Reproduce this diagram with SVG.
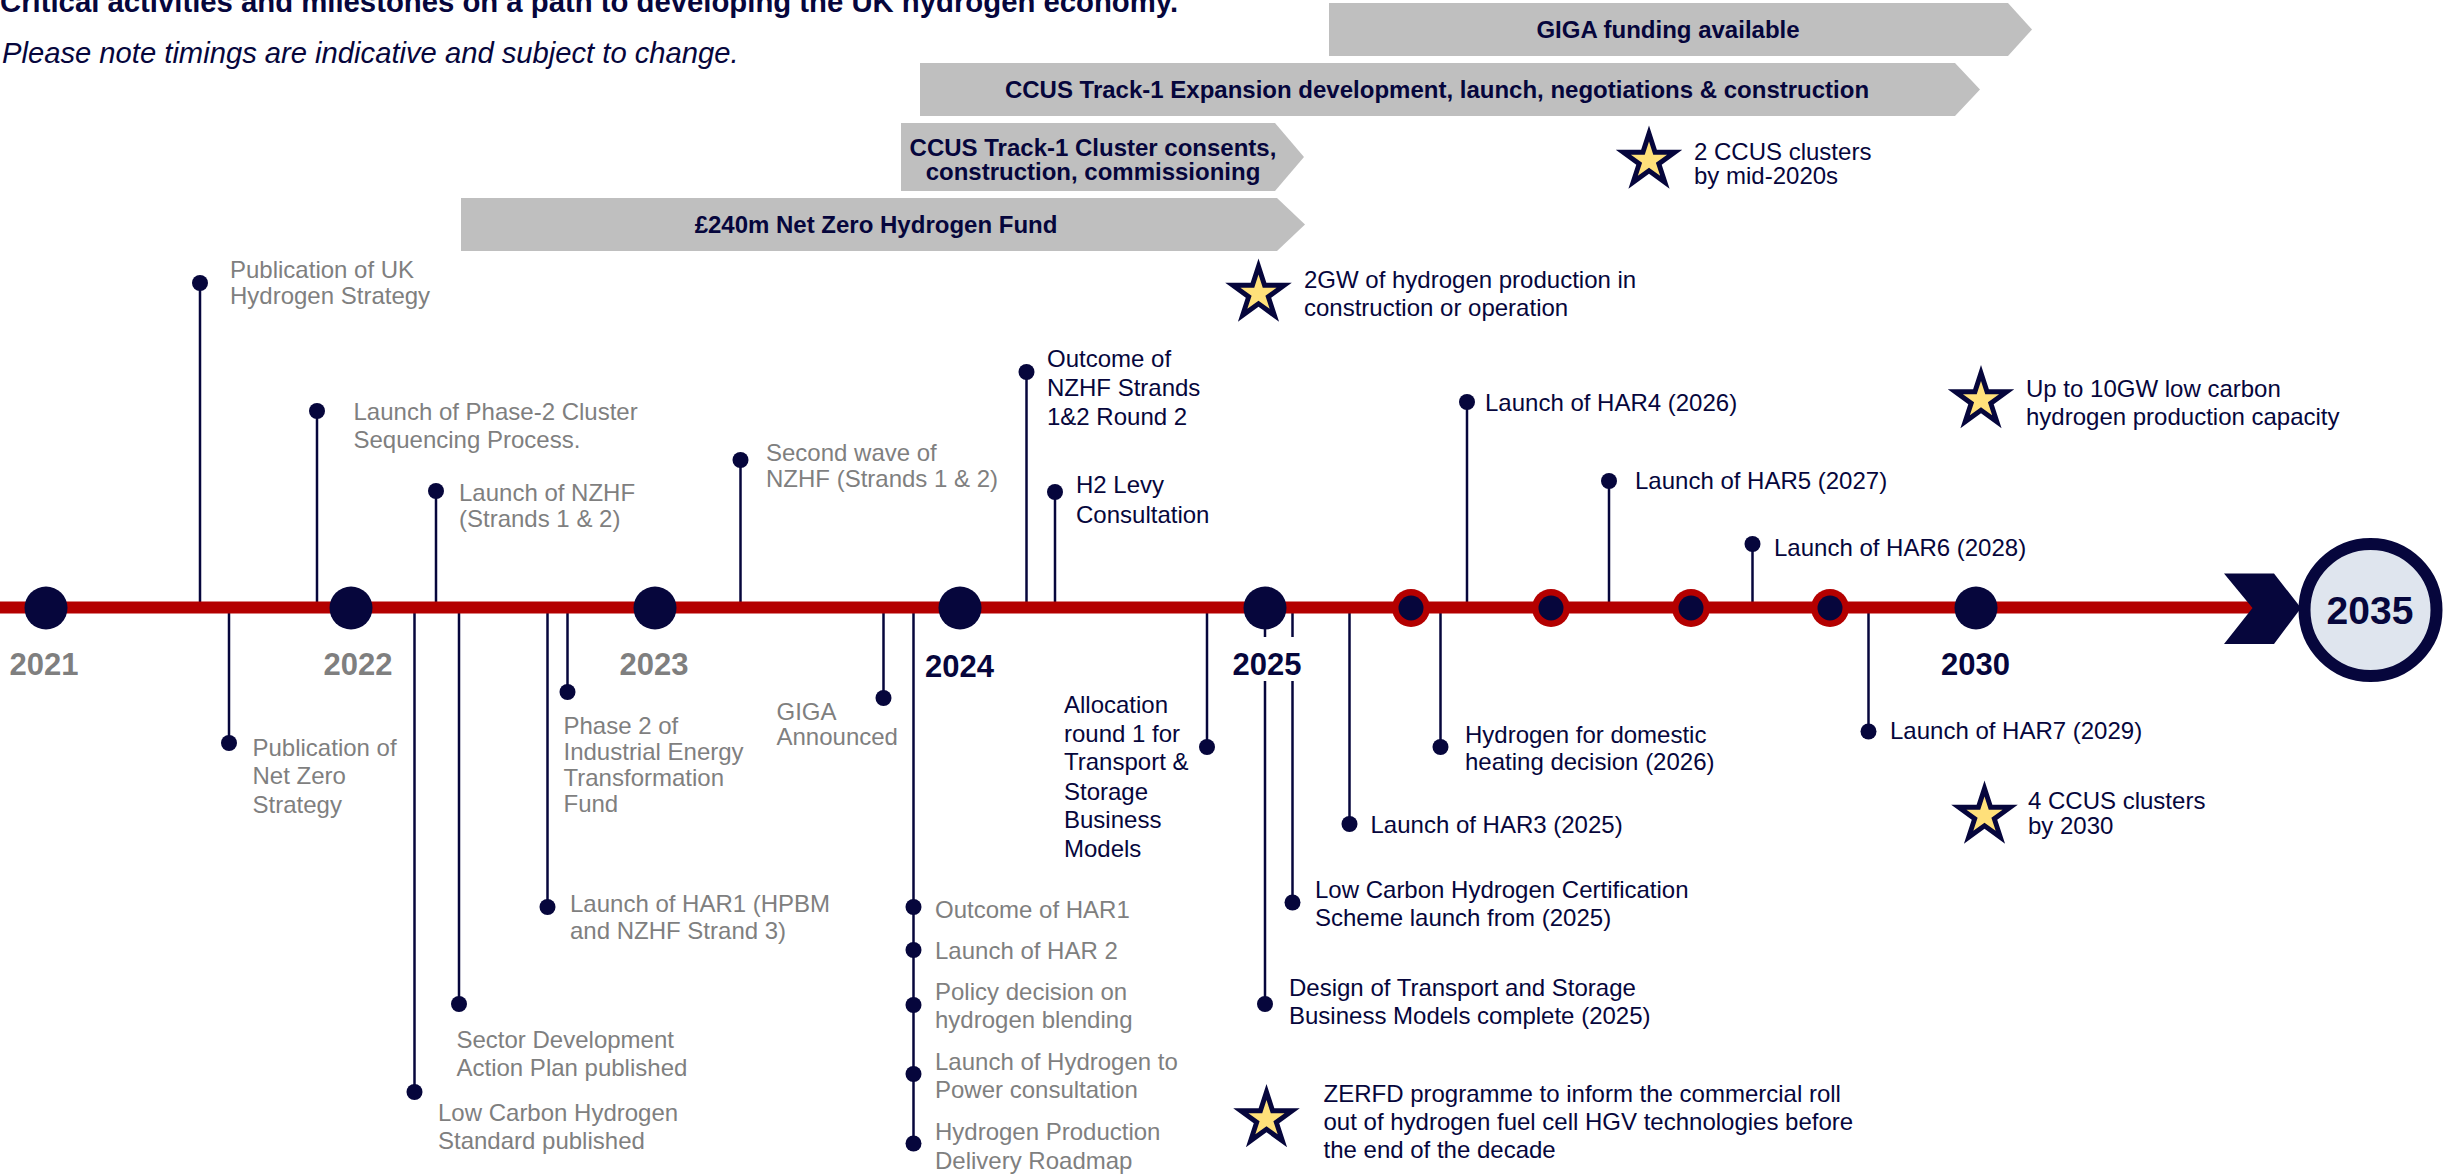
<svg xmlns="http://www.w3.org/2000/svg" xmlns:xlink="http://www.w3.org/1999/xlink" width="2445" height="1174" viewBox="0 0 2445 1174">
<style>
text{font-family:"Liberation Sans",Arial,sans-serif;}
.t{font-size:24px;}
.g{fill:#7f7f7f;}
.n{fill:#06063c;}
.ban{fill:#bfbfbf;}
.bt{font-size:24px;font-weight:bold;fill:#06063c;text-anchor:middle;}
.yr{font-size:31px;font-weight:bold;text-anchor:middle;}
.stem{stroke:#06063c;stroke-width:2.5;}
.dot{fill:#06063c;}
.ydot{fill:#06063c;}
.ring{fill:#b40000;}
</style>
<defs>
<g id="star">
<polygon fill="#06063c" points="0,-35 7.86,-10.82 33.29,-10.82 12.72,4.13 20.57,28.32 0,13.37 -20.57,28.32 -12.72,4.13 -33.29,-10.82 -7.86,-10.82"/>
<polygon fill="#ffe07a" points="0,-19 4.27,-5.87 18.07,-5.87 6.90,2.24 11.17,15.37 0,7.26 -11.17,15.37 -6.90,2.24 -18.07,-5.87 -4.27,-5.87"/>
</g>
</defs>
<rect width="2445" height="1174" fill="#ffffff"/>

<g id="title">
<text x="0" y="12" font-size="29.3" font-weight="bold" class="n">Critical activities and milestones on a path to developing the UK hydrogen economy.</text>
<text x="2" y="63" font-size="29.2" font-style="italic" class="n">Please note timings are indicative and subject to change.</text>
</g>

<g id="banner-giga">
<polygon class="ban" points="1329,3 2008,3 2032,29.5 2008,56 1329,56"/>
<text class="bt" x="1668" y="38">GIGA funding available</text>
</g>
<g id="banner-ccus-expansion">
<polygon class="ban" points="920,63 1955,63 1980,89.5 1955,116 920,116"/>
<text class="bt" x="1437" y="98">CCUS Track-1 Expansion development, launch, negotiations &amp; construction</text>
</g>
<g id="banner-ccus-cluster">
<polygon class="ban" points="901,123 1275,123 1304,157 1275,191 901,191"/>
<text class="bt" x="1093" y="156">CCUS Track-1 Cluster consents,</text>
<text class="bt" x="1093" y="180">construction, commissioning</text>
</g>
<g id="banner-nzhf">
<polygon class="ban" points="461,198 1277,198 1305,224.5 1277,251 461,251"/>
<text class="bt" x="876" y="233">£240m Net Zero Hydrogen Fund</text>
</g>

<g id="connectors">
<line class="stem" x1="200" y1="283" x2="200" y2="607"/>
<line class="stem" x1="317" y1="411" x2="317" y2="607"/>
<line class="stem" x1="436" y1="491" x2="436" y2="607"/>
<line class="stem" x1="740.5" y1="460" x2="740.5" y2="607"/>
<line class="stem" x1="1026.5" y1="372" x2="1026.5" y2="607"/>
<line class="stem" x1="1055" y1="492" x2="1055" y2="607"/>
<line class="stem" x1="1467" y1="402" x2="1467" y2="607"/>
<line class="stem" x1="1609" y1="481" x2="1609" y2="607"/>
<line class="stem" x1="1752.5" y1="544" x2="1752.5" y2="607"/>
<line class="stem" x1="229" y1="607" x2="229" y2="743"/>
<line class="stem" x1="414.5" y1="607" x2="414.5" y2="1092"/>
<line class="stem" x1="459" y1="607" x2="459" y2="1004"/>
<line class="stem" x1="547.5" y1="607" x2="547.5" y2="907"/>
<line class="stem" x1="567.5" y1="607" x2="567.5" y2="692"/>
<line class="stem" x1="883.5" y1="607" x2="883.5" y2="698"/>
<line class="stem" x1="913.5" y1="607" x2="913.5" y2="1143.5"/>
<line class="stem" x1="1207" y1="607" x2="1207" y2="747"/>
<line class="stem" x1="1265" y1="607" x2="1265" y2="1004"/>
<line class="stem" x1="1292.5" y1="607" x2="1292.5" y2="902.5"/>
<line class="stem" x1="1349.5" y1="607" x2="1349.5" y2="824"/>
<line class="stem" x1="1440.5" y1="607" x2="1440.5" y2="747"/>
<line class="stem" x1="1868.5" y1="607" x2="1868.5" y2="731.5"/>
</g>

<g id="timeline">
<rect x="0" y="601.5" width="2258" height="12" fill="#b40000"/>
<polygon class="dot" points="2224,573.5 2274,573.5 2301,608 2274,644 2224,644 2252.5,608"/>
</g>

<g id="year-2021"><circle class="ydot" cx="46" cy="608" r="21.5"/><text class="yr g" x="44" y="675">2021</text></g>
<g id="year-2022"><circle class="ydot" cx="351" cy="608" r="21.5"/><text class="yr g" x="358" y="675">2022</text></g>
<g id="year-2023"><circle class="ydot" cx="655" cy="608" r="21.5"/><text class="yr g" x="654" y="675">2023</text></g>
<g id="year-2024"><circle class="ydot" cx="960" cy="608" r="21.5"/><text class="yr n" x="959.5" y="676.5">2024</text></g>
<g id="year-2025"><circle class="ydot" cx="1265" cy="608" r="21.5"/><rect x="1226" y="637" width="80" height="44" fill="#ffffff"/><text class="yr n" x="1267" y="675">2025</text></g>
<g id="year-2026"><circle class="ring" cx="1411" cy="608" r="19"/><circle class="ydot" cx="1411" cy="608" r="12.5"/></g>
<g id="year-2027"><circle class="ring" cx="1551" cy="608" r="19"/><circle class="ydot" cx="1551" cy="608" r="12.5"/></g>
<g id="year-2028"><circle class="ring" cx="1691" cy="608" r="19"/><circle class="ydot" cx="1691" cy="608" r="12.5"/></g>
<g id="year-2029"><circle class="ring" cx="1830" cy="608" r="19"/><circle class="ydot" cx="1830" cy="608" r="12.5"/></g>
<g id="year-2030"><circle class="ydot" cx="1976" cy="608" r="21.5"/><text class="yr n" x="1975.5" y="675">2030</text></g>
<g id="year-2035">
<circle cx="2370.5" cy="610" r="66" fill="#dfe5ee" stroke="#06063c" stroke-width="12"/>
<text x="2370" y="623.5" font-size="39" font-weight="bold" text-anchor="middle" class="n">2035</text>
</g>

<g id="m-uk-hydrogen-strategy"><circle class="dot" cx="200" cy="283" r="8"/><text class="t g"><tspan x="230" y="278">Publication of UK</tspan><tspan x="230" y="304">Hydrogen Strategy</tspan></text></g>
<g id="m-phase2-cluster"><circle class="dot" cx="317" cy="411" r="8"/><text class="t g"><tspan x="353.5" y="420">Launch of Phase-2 Cluster</tspan><tspan x="353.5" y="448">Sequencing Process.</tspan></text></g>
<g id="m-launch-nzhf"><circle class="dot" cx="436" cy="491" r="8"/><text class="t g"><tspan x="459" y="501">Launch of NZHF</tspan><tspan x="459" y="527">(Strands 1 &amp; 2)</tspan></text></g>
<g id="m-second-wave"><circle class="dot" cx="740.5" cy="460" r="8"/><text class="t g"><tspan x="766" y="461">Second wave of</tspan><tspan x="766" y="487">NZHF (Strands 1 &amp; 2)</tspan></text></g>
<g id="m-outcome-nzhf"><circle class="dot" cx="1026.5" cy="372" r="8"/><text class="t n"><tspan x="1047" y="367">Outcome of</tspan><tspan x="1047" y="396">NZHF Strands</tspan><tspan x="1047" y="425">1&amp;2 Round 2</tspan></text></g>
<g id="m-h2-levy"><circle class="dot" cx="1055" cy="492" r="8"/><text class="t n"><tspan x="1076" y="493">H2 Levy</tspan><tspan x="1076" y="523">Consultation</tspan></text></g>
<g id="m-har4"><circle class="dot" cx="1467" cy="402" r="8"/><text class="t n" x="1485" y="411">Launch of HAR4 (2026)</text></g>
<g id="m-har5"><circle class="dot" cx="1609" cy="481" r="8"/><text class="t n" x="1635" y="489">Launch of HAR5 (2027)</text></g>
<g id="m-har6"><circle class="dot" cx="1752.5" cy="544" r="8"/><text class="t n" x="1774" y="556">Launch of HAR6 (2028)</text></g>

<g id="m-net-zero-strategy"><circle class="dot" cx="229" cy="743" r="8"/><text class="t g"><tspan x="252.5" y="756">Publication of</tspan><tspan x="252.5" y="784">Net Zero</tspan><tspan x="252.5" y="813">Strategy</tspan></text></g>
<g id="m-lchs"><circle class="dot" cx="414.5" cy="1092" r="8"/><text class="t g"><tspan x="438" y="1121">Low Carbon Hydrogen</tspan><tspan x="438" y="1148.5">Standard published</tspan></text></g>
<g id="m-sdap"><circle class="dot" cx="459" cy="1004" r="8"/><text class="t g"><tspan x="456.5" y="1047.5">Sector Development</tspan><tspan x="456.5" y="1076">Action Plan published</tspan></text></g>
<g id="m-har1"><circle class="dot" cx="547.5" cy="907" r="8"/><text class="t g"><tspan x="570" y="912">Launch of HAR1 (HPBM</tspan><tspan x="570" y="939">and NZHF Strand 3)</tspan></text></g>
<g id="m-ietf"><circle class="dot" cx="567.5" cy="692" r="8"/><text class="t g"><tspan x="563.5" y="733.5">Phase 2 of</tspan><tspan x="563.5" y="760">Industrial Energy</tspan><tspan x="563.5" y="786">Transformation</tspan><tspan x="563.5" y="811.5">Fund</tspan></text></g>
<g id="m-giga"><circle class="dot" cx="883.5" cy="698" r="8"/><text class="t g"><tspan x="776.5" y="719.5">GIGA</tspan><tspan x="776.5" y="745">Announced</tspan></text></g>
<g id="m-2024-list">
<circle class="dot" cx="913.5" cy="907" r="8"/><circle class="dot" cx="913.5" cy="950" r="8"/><circle class="dot" cx="913.5" cy="1005" r="8"/><circle class="dot" cx="913.5" cy="1074" r="8"/><circle class="dot" cx="913.5" cy="1143.5" r="8"/>
<text class="t g"><tspan x="935" y="918">Outcome of HAR1</tspan><tspan x="935" y="959">Launch of HAR 2</tspan><tspan x="935" y="1000">Policy decision on</tspan><tspan x="935" y="1028">hydrogen blending</tspan><tspan x="935" y="1070">Launch of Hydrogen to</tspan><tspan x="935" y="1097.5">Power consultation</tspan><tspan x="935" y="1139.5">Hydrogen Production</tspan><tspan x="935" y="1168.5">Delivery Roadmap</tspan></text>
</g>
<g id="m-allocation"><circle class="dot" cx="1207" cy="747" r="8"/><text class="t n"><tspan x="1064" y="712.5">Allocation</tspan><tspan x="1064" y="742">round 1 for</tspan><tspan x="1064" y="770">Transport &amp;</tspan><tspan x="1064" y="799.5">Storage</tspan><tspan x="1064" y="828">Business</tspan><tspan x="1064" y="856.5">Models</tspan></text></g>
<g id="m-tsbm-design"><circle class="dot" cx="1265" cy="1004" r="8"/><text class="t n"><tspan x="1289" y="996">Design of Transport and Storage</tspan><tspan x="1289" y="1024">Business Models complete (2025)</tspan></text></g>
<g id="m-lchcs"><circle class="dot" cx="1292.5" cy="902.5" r="8"/><text class="t n"><tspan x="1315" y="897.5">Low Carbon Hydrogen Certification</tspan><tspan x="1315" y="926">Scheme launch from (2025)</tspan></text></g>
<g id="m-har3"><circle class="dot" cx="1349.5" cy="824" r="8"/><text class="t n" x="1370.5" y="833">Launch of HAR3 (2025)</text></g>
<g id="m-domestic-heating"><circle class="dot" cx="1440.5" cy="747" r="8"/><text class="t n"><tspan x="1465" y="743">Hydrogen for domestic</tspan><tspan x="1465" y="769.5">heating decision (2026)</tspan></text></g>
<g id="m-har7"><circle class="dot" cx="1868.5" cy="731.5" r="8"/><text class="t n" x="1890" y="739">Launch of HAR7 (2029)</text></g>

<g id="star-2ccus"><use xlink:href="#star" href="#star" transform="translate(1649,160.5)"/><text class="t n"><tspan x="1694" y="159.5">2 CCUS clusters</tspan><tspan x="1694" y="184">by mid-2020s</tspan></text></g>
<g id="star-2gw"><use xlink:href="#star" href="#star" transform="translate(1258.5,293.5)"/><text class="t n"><tspan x="1304" y="287.5">2GW of hydrogen production in</tspan><tspan x="1304" y="316">construction or operation</tspan></text></g>
<g id="star-10gw"><use xlink:href="#star" href="#star" transform="translate(1981,400)"/><text class="t n"><tspan x="2026" y="396.5">Up to 10GW low carbon</tspan><tspan x="2026" y="425">hydrogen production capacity</tspan></text></g>
<g id="star-4ccus"><use xlink:href="#star" href="#star" transform="translate(1984.5,815.5)"/><text class="t n"><tspan x="2028" y="808.5">4 CCUS clusters</tspan><tspan x="2028" y="834">by 2030</tspan></text></g>
<g id="star-zerfd"><use xlink:href="#star" href="#star" transform="translate(1266.5,1119)"/><text class="t n"><tspan x="1323.5" y="1101.5">ZERFD programme to inform the commercial roll</tspan><tspan x="1323.5" y="1129.5">out of hydrogen fuel cell HGV technologies before</tspan><tspan x="1323.5" y="1158">the end of the decade</tspan></text></g>
</svg>
